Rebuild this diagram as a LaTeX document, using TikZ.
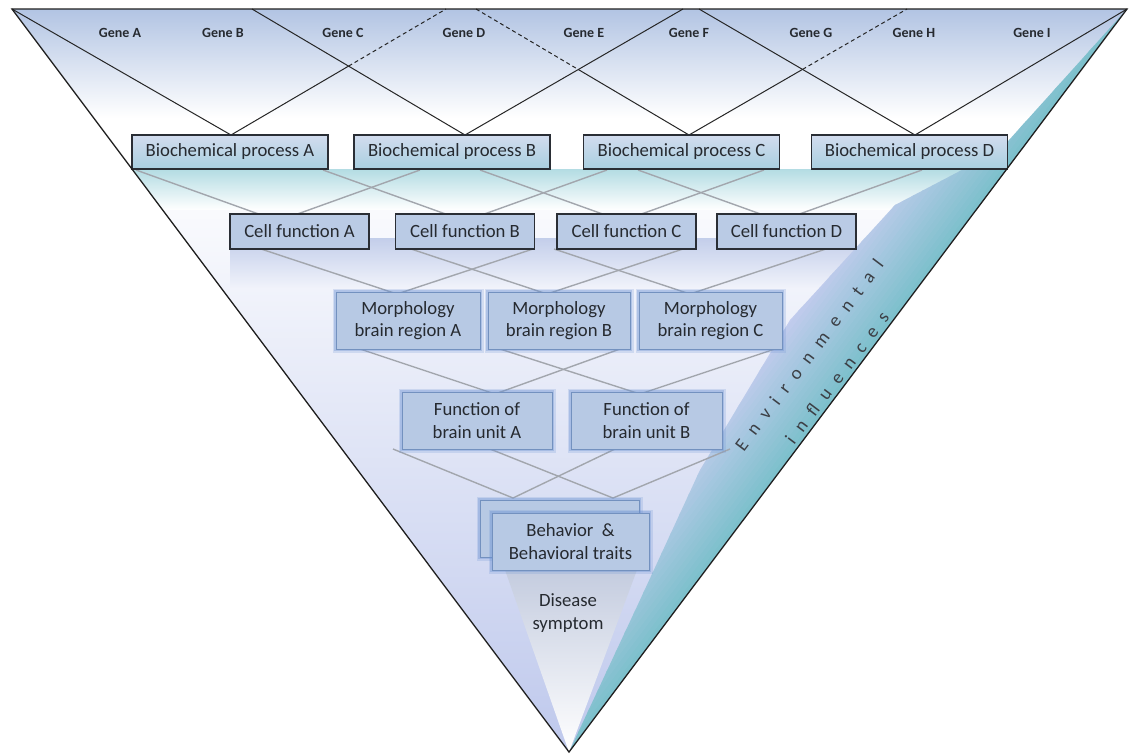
\documentclass[tikz,border=0pt]{standalone}
\usepackage{fontspec}
\setmainfont{Carlito}
\usetikzlibrary{calc}
\newfontfamily\envfont[LetterSpace=55]{Carlito}
\newcommand\BoxFnt{\fontsize{18.7}{22.5}\selectfont}
\newcommand\GeneFnt{\bfseries\fontsize{14}{15}\selectfont}
\newcommand\EnvFnt{\envfont\fontsize{18.7}{22.5}\selectfont}
\definecolor{topBlue}{HTML}{B2C4E3}
\definecolor{lav}{HTML}{BEC8EC}
\definecolor{lavW}{HTML}{C3CCEE}
\definecolor{tealc}{HTML}{7DC0CC}
\definecolor{bandTeal}{HTML}{B3DCE3}
\definecolor{cellBand}{HTML}{C3CEEA}
\definecolor{bioTop}{HTML}{D2DCEE}
\definecolor{bioBot}{HTML}{A9CFE0}
\definecolor{cellFill}{HTML}{BACBE5}
\definecolor{softFill}{HTML}{B7C9E4}
\definecolor{softLine}{HTML}{7391BF}
\definecolor{glow}{HTML}{6D93D3}
\definecolor{boxline}{HTML}{2A2E35}
\definecolor{txt}{HTML}{262A30}
\definecolor{latGray}{HTML}{A2A6AD}
\definecolor{disTop}{HTML}{C4CCDF}
\tikzset{
  biobox/.style={draw=boxline, line width=1.1pt, top color=bioTop, bottom color=bioBot,
    minimum width=196pt, minimum height=34pt, inner sep=0pt, font=\BoxFnt, text=txt},
  cellbox/.style={draw=boxline, line width=1.1pt, fill=cellFill,
    minimum width=139pt, minimum height=35pt, inner sep=0pt, font=\BoxFnt, text=txt},
  softbox/.style={draw=softLine, line width=1pt, fill=softFill,
    preaction={draw=glow, line width=7pt, draw opacity=0.22},
    preaction={draw=glow, line width=3.5pt, draw opacity=0.35},
    minimum height=57pt, inner sep=0pt, font=\BoxFnt, text=txt, align=center},
  genelbl/.style={font=\GeneFnt, text=txt},
  lat/.style={draw=latGray, line width=1.4pt},
  gl/.style={draw=black!85, line width=1pt},
  gld/.style={gl, dash pattern=on 4pt off 3pt},
  envtext/.style={font=\EnvFnt, text=txt!90, rotate=53, inner sep=0pt},
}
\begin{document}
\begin{tikzpicture}[x=1pt,y=-1pt]
\useasboundingbox (0,0) rectangle (1132,755);
\coordinate (TL) at (12,9);
\coordinate (TR) at (1127,9);
\coordinate (AP) at (569,752);

% ---------- background ----------
\begin{scope}
  \clip (TL) -- (TR) -- (AP) -- cycle;
  \fill[white] (0,0) rectangle (1132,160);
  \shade[top color=white, bottom color=lav] (0,159) rectangle (1132,755);
  \shade[top color=topBlue, bottom color=white] (0,9) rectangle (1132,118);
  \shade[top color=bandTeal, bottom color=white] (132,169) -- (1010,169) -- (975,210) -- (132,210) -- cycle;
  \shade[top color=cellBand, bottom color=lav!22!white] (230,238) rectangle (856,288);
  % right wedge: strips parallel to the right edge, teal at the edge
  \begin{scope}
    \clip (TR) -- (1000,150) -- (895,205) -- (790,320) -- (700,470) -- (640,600) -- (AP) -- cycle;
    \foreach \k in {0,...,19}{
      \pgfmathsetmacro\da{\k*4.5}
      \pgfmathsetmacro\db{\k*4.5+5}
      \pgfmathtruncatemacro\pc{max(0,100-\k*5.5)}
      \fill[tealc!\pc!lavW]
        ($(TR)+({-0.7998*\da+30},{-0.6006*\da-40})$) --
        ($(AP)+({-0.7998*\da-30},{-0.6006*\da+40})$) --
        ($(AP)+({-0.7998*\db-30},{-0.6006*\db+40})$) --
        ($(TR)+({-0.7998*\db+30},{-0.6006*\db-40})$) -- cycle;
    }
  \end{scope}
  \shade[top color=disTop, bottom color=white] (505,570) -- (637,570) -- (AP) -- cycle;
\end{scope}

% ---------- gene lattice ----------
\coordinate (g1) at (252,9);
\coordinate (g2) at (446,9);
\coordinate (g3) at (476,9);
\coordinate (g4) at (683,9);
\coordinate (g5) at (699,9);
\coordinate (g6) at (907,9);
\coordinate (vA) at (231,135);
\coordinate (vB) at (465,135);
\coordinate (vC) at (689,135);
\coordinate (vD) at (915,135);
\coordinate (x1) at (intersection of vA--g2 and g1--vB);
\coordinate (x2) at (intersection of g3--vC and vB--g4);
\coordinate (x3) at (intersection of vC--g6 and g5--vD);
\draw[gl] (TL) -- (vA);
\draw[gl] (vA) -- (x1);
\draw[gld] (x1) -- (g2);
\draw[gl] (g1) -- (vB);
\draw[gl] (vB) -- (g4);
\draw[gld] (g3) -- (x2);
\draw[gl] (x2) -- (vC);
\draw[gl] (g5) -- (vD);
\draw[gl] (vC) -- (x3);
\draw[gld] (x3) -- (g6);
\draw[gl] (vD) -- (TR);

% ---------- lower lattices ----------
\foreach \n/\xa in {1/278, 2/465, 3/622, 4/780}{
  \coordinate (c\n) at (\xa,221);
  \coordinate (c\n l) at (\xa-142,170);
  \coordinate (c\n r) at (\xa+142,170);
  \draw[lat] (c\n l) -- (c\n) -- (c\n r);
}
\foreach \n/\xa in {1/397, 2/547, 3/690}{
  \coordinate (m\n) at (\xa,294);
  \coordinate (m\n l) at (\xa-136,249);
  \coordinate (m\n r) at (\xa+136,249);
  \draw[lat] (m\n l) -- (m\n) -- (m\n r);
}
\coordinate (f1) at (495,394);
\coordinate (f1l) at (360,349);
\coordinate (f1r) at (620,349);
\coordinate (f2) at (640,394);
\coordinate (f2l) at (500,349);
\coordinate (f2r) at (775,349);
\draw[lat] (f1l) -- (f1) -- (f1r);
\draw[lat] (f2l) -- (f2) -- (f2r);
\coordinate (b1) at (513,498);
\coordinate (b1l) at (393,449);
\coordinate (b1r) at (615,449);
\coordinate (b2) at (613,498);
\coordinate (b2l) at (490,449);
\coordinate (b2r) at (730,449);
\draw[lat] (b1l) -- (b1) -- (b1r);
\draw[lat] (b2l) -- (b2) -- (b2r);

% ---------- gene labels ----------
\node[genelbl] (geneA) at (120,33) {Gene A};
\node[genelbl] (geneB) at (223,33) {Gene B};
\node[genelbl] (geneC) at (343,33) {Gene C};
\node[genelbl] (geneD) at (464,33) {Gene D};
\node[genelbl] (geneE) at (584,33) {Gene E};
\node[genelbl] (geneF) at (689,33) {Gene F};
\node[genelbl] (geneG) at (811,33) {Gene G};
\node[genelbl] (geneH) at (914,33) {Gene H};
\node[genelbl] (geneI) at (1032,33) {Gene I};

% ---------- boxes ----------
\node[biobox] (bioA) at (230,152) {Biochemical process A};
\node[biobox] (bioB) at (452,152) {Biochemical process B};
\node[biobox] (bioC) at (681.5,152) {Biochemical process C};
\node[biobox] (bioD) at (909.5,152) {Biochemical process D};

\node[cellbox] (cellA) at (299.5,231.5) {Cell function A};
\node[cellbox] (cellB) at (465,231.5) {Cell function B};
\node[cellbox] (cellC) at (626.5,231.5) {Cell function C};
\node[cellbox] (cellD) at (786.5,231.5) {Cell function D};

\node[softbox, minimum width=144pt] (morphA) at (408,320.5) {Morphology\\brain region A};
\node[softbox, minimum width=142pt] (morphB) at (559,320.5) {Morphology\\brain region B};
\node[softbox, minimum width=143pt] (morphC) at (710.5,320.5) {Morphology\\brain region C};

\node[softbox, minimum width=150pt] (funcA) at (477,420.5) {Function of\\brain unit A};
\node[softbox, minimum width=151pt] (funcB) at (646.5,420.5) {Function of\\brain unit B};

\node[softbox, minimum width=159pt] (behBack) at (559.5,528.5) {};
\node[softbox, minimum width=157pt] (behFront) at (570.5,541.5) {Behavior~ \&\\Behavioral traits};

\node[font=\BoxFnt, text=txt, align=center] (dis) at (568,613) {Disease\\symptom};

% ---------- environmental ----------
\node[envtext] (env1) at (809,355) {Environmental};
\node[envtext] (env2) at (837,378) {influences};

% ---------- outline ----------
\draw[line width=1.3pt, black!88, line join=miter] (TL) -- (TR) -- (AP) -- cycle;
\end{tikzpicture}
\end{document}
